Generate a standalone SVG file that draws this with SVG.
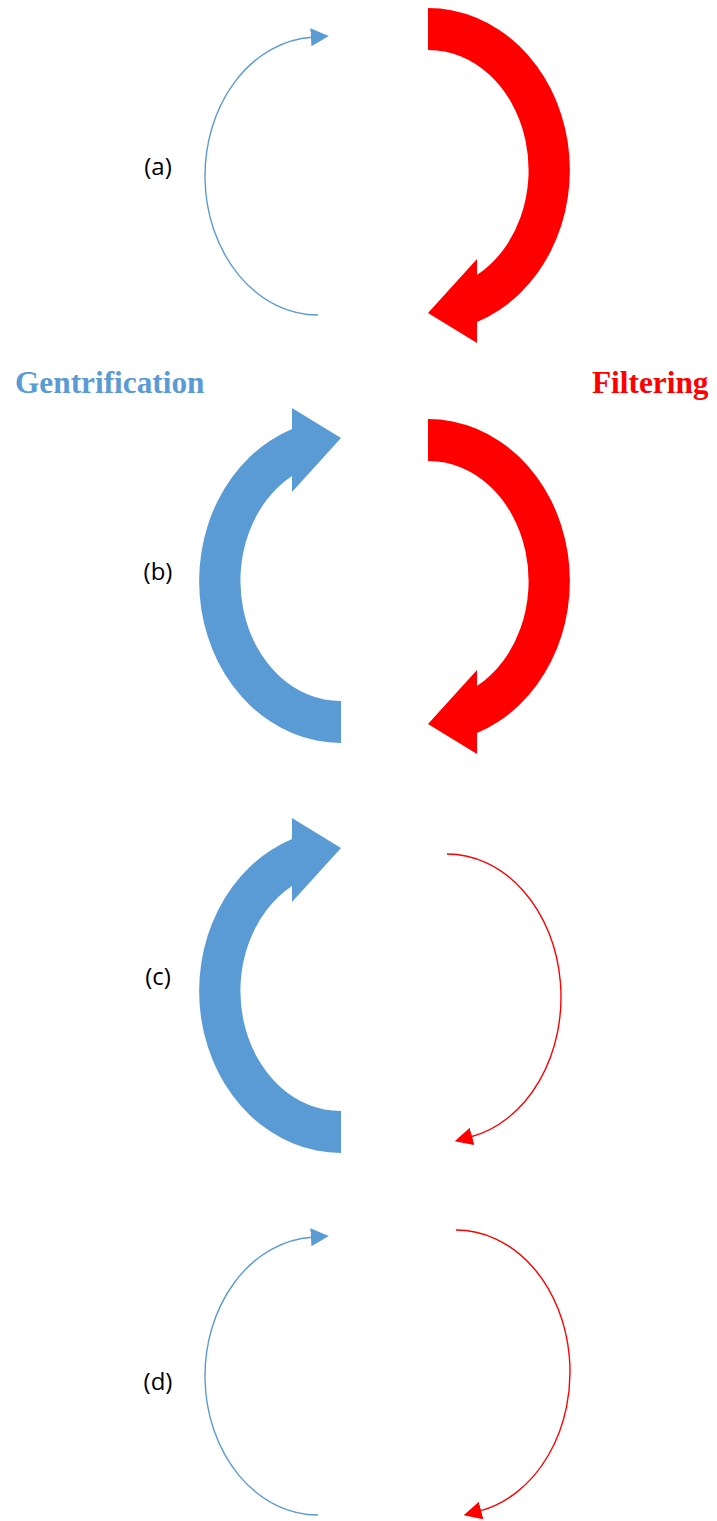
<svg xmlns="http://www.w3.org/2000/svg" width="717" height="1521" viewBox="0 0 717 1521">
  <style>
    .blue { fill: #5B9BD5; }
    .red { fill: #FF0000; }
    .thin { fill: none; stroke-width: 1.4; }
    .thin.b { stroke: #5B9BD5; }
    .thin.r { stroke: #FF0000; }
    .tag { font-family: "Open Sans", "Liberation Sans", sans-serif; font-size: 24px; fill: #000; text-anchor: middle; }
    .title { font-family: "Liberation Serif", "Times New Roman", serif; font-weight: bold; font-size: 31.3px; }
  </style>
  <defs>
    <!-- thick curved arrow, drawn around its ellipse centre; square tail at top, head bottom-left -->
    <path id="bigArrow" d="M0,-162 A142,162 0 0 1 49,152 L49,173 L0,143 L49,89 L49,105 A100,120 0 0 0 0,-120 Z"/>
    <marker id="headBlue" markerUnits="userSpaceOnUse" markerWidth="18" markerHeight="18" viewBox="0 -8 16 16" refX="1" refY="0" orient="auto">
      <path d="M0,-8 L16,0 L0,8 Z" fill="#5B9BD5"/>
    </marker>
    <marker id="headRed" markerUnits="userSpaceOnUse" markerWidth="18" markerHeight="18" viewBox="0 -8 16 16" refX="1" refY="0" orient="auto">
      <path d="M0,-8 L16,0 L0,8 Z" fill="#FF0000"/>
    </marker>
  </defs>

  <g id="labels">
    <text class="tag" x="158" y="175">(a)</text>
    <text class="tag" x="158" y="580">(b)</text>
    <text class="tag" x="158" y="985">(c)</text>
    <text class="tag" x="158" y="1390">(d)</text>
    <text id="gentrification" class="title" x="15" y="393" fill="#5B9BD5">Gentrification</text>
    <text id="filtering" class="title" x="592" y="393" fill="#FF0000">Filtering</text>
  </g>

  <!-- heavy flows -->
  <g id="filter-a"><use href="#bigArrow" class="red" transform="translate(428,170)"/></g>
  <g id="filter-b"><use href="#bigArrow" class="red" transform="translate(428,581)"/></g>
  <g id="gentrify-b"><use href="#bigArrow" class="blue" transform="translate(341,581) rotate(180)"/></g>
  <g id="gentrify-c"><use href="#bigArrow" class="blue" transform="translate(341,991) rotate(180)"/></g>

  <!-- light flows: elliptical arcs whose end points sit exactly on the ellipse -->
  <g id="connectors">
    <path id="gentrify-a" class="thin b" d="M318,315 A113,139 0 0 1 312,37.196" marker-end="url(#headBlue)"/>
    <path id="filter-c" class="thin r" d="M447,854 A114,143 0 0 1 471,1136.795" marker-end="url(#headRed)"/>
    <path id="gentrify-d" class="thin b" d="M318,1515 A113,139 0 0 1 312,1237.196" marker-end="url(#headBlue)"/>
    <path id="filter-d" class="thin r" d="M456,1230 A114,142 0 0 1 480,1510.817" marker-end="url(#headRed)"/>
  </g>
</svg>
